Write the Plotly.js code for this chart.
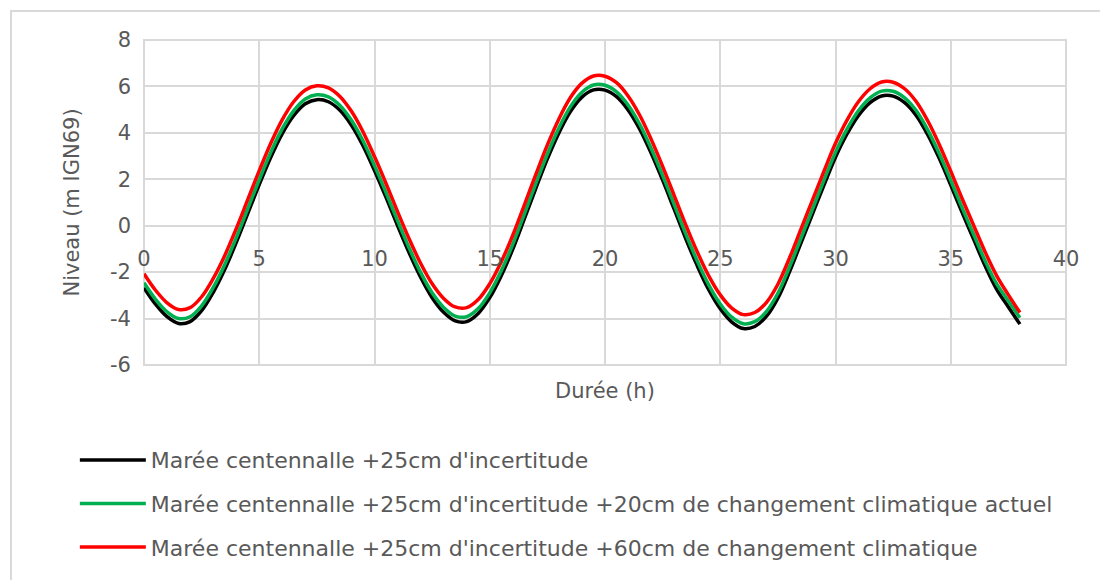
<!DOCTYPE html>
<html><head><meta charset="utf-8">
<script src="https://cdn.plot.ly/plotly-3.0.1.min.js"></script>
<style>
html,body{margin:0;padding:0;background:#fff;overflow:hidden;width:1100px;height:580px;}
#frame{position:absolute;left:10px;top:10px;width:1200px;height:700px;border-left:2px solid #d9d9d9;border-top:2px solid #d9d9d9;}
#chart{position:absolute;left:0;top:0;width:1100px;height:580px;}
</style></head><body>
<div id="frame"></div><div id="chart"></div>
<script>
const hours = [0,0.5,1,1.5,2,2.5,3,3.5,4,4.5,5,5.5,6,6.5,7,7.5,8,8.5,9,9.5,10,10.5,11,11.5,12,12.5,13,13.5,14,14.5,15,15.5,16,16.5,17,17.5,18,18.5,19,19.5,20,20.5,21,21.5,22,22.5,23,23.5,24,24.5,25,25.5,26,26.5,27,27.5,28,28.5,29,29.5,30,30.5,31,31.5,32,32.5,33,33.5,34,34.5,35,35.5,36,36.5,37,37.5,38];

const serieIncertitude = [-2.67,-3.38,-3.92,-4.21,-4.13,-3.66,-2.88,-1.89,-0.73,0.52,1.77,2.95,3.97,4.75,5.25,5.43,5.34,4.97,4.33,3.45,2.38,1.22,0.01,-1.16,-2.22,-3.10,-3.73,-4.10,-4.13,-3.78,-3.10,-2.15,-1.01,0.29,1.61,2.88,4.00,4.92,5.54,5.85,5.84,5.56,4.99,4.17,3.13,1.96,0.71,-0.55,-1.72,-2.76,-3.58,-4.15,-4.43,-4.34,-3.91,-3.12,-2.00,-0.75,0.50,1.75,2.95,3.95,4.75,5.30,5.59,5.58,5.30,4.75,3.92,2.90,1.75,0.55,-0.60,-1.75,-2.75,-3.50,-4.24];

const serieActuel = [-2.46,-3.17,-3.71,-4.00,-3.92,-3.45,-2.67,-1.68,-0.52,0.73,1.98,3.16,4.18,4.96,5.46,5.64,5.55,5.18,4.54,3.66,2.59,1.43,0.22,-0.95,-2.01,-2.89,-3.52,-3.89,-3.92,-3.57,-2.89,-1.94,-0.80,0.50,1.82,3.09,4.21,5.13,5.75,6.06,6.05,5.77,5.20,4.38,3.34,2.17,0.92,-0.34,-1.51,-2.55,-3.37,-3.94,-4.22,-4.13,-3.70,-2.91,-1.79,-0.54,0.71,1.96,3.16,4.16,4.96,5.51,5.80,5.79,5.51,4.96,4.13,3.11,1.96,0.76,-0.39,-1.53,-2.52,-3.24,-3.96];

const serieClimat = [-2.07,-2.78,-3.32,-3.61,-3.53,-3.06,-2.28,-1.29,-0.13,1.12,2.37,3.55,4.57,5.35,5.85,6.03,5.94,5.57,4.93,4.05,2.98,1.82,0.61,-0.56,-1.62,-2.50,-3.13,-3.50,-3.53,-3.18,-2.50,-1.55,-0.41,0.89,2.21,3.48,4.60,5.52,6.14,6.45,6.44,6.16,5.59,4.77,3.73,2.56,1.31,0.05,-1.12,-2.16,-2.98,-3.55,-3.83,-3.74,-3.31,-2.52,-1.40,-0.15,1.10,2.35,3.55,4.55,5.35,5.90,6.19,6.18,5.90,5.35,4.52,3.50,2.35,1.15,0.00,-1.15,-2.17,-2.98,-3.74];

const seriesNames = [
  "Marée centennalle +25cm d'incertitude",
  "Marée centennalle +25cm d'incertitude +20cm de changement climatique actuel",
  "Marée centennalle +25cm d'incertitude +60cm de changement climatique"
];
const seriesColors = ['#000000', '#00b050', '#ff0000'];
const xTicks = [0,5,10,15,20,25,30,35,40];
const yTicks = [-6,-4,-2,0,2,4,6,8];

const FONT = 'DejaVu Sans, sans-serif';
const GREY = '#595959';
const GRID = '#d9d9d9';
const allY = [serieIncertitude, serieActuel, serieClimat];

const traces = allY.map((ys, i) => ({
  x: hours, y: ys, type: 'scatter', mode: 'lines',
  name: seriesNames[i], legendgroup: 'g' + i,
  line: {color: seriesColors[i], width: 3.5, shape: 'spline', smoothing: 1},
  hoverinfo: 'skip'
}));

const layout = {
  width: 1100, height: 580,
  margin: {l: 144, r: 34, t: 40, b: 212, pad: 0},
  paper_bgcolor: 'rgba(0,0,0,0)', plot_bgcolor: 'rgba(0,0,0,0)',
  showlegend: true,
  font: {family: FONT, color: GREY},
  xaxis: {
    range: [0, 40], tickmode: 'array', tickvals: xTicks, ticktext: xTicks.map(String),
    anchor: 'free', position: 6/14,
    showgrid: true, gridcolor: GRID, gridwidth: 2,
    zeroline: false, showline: false, ticks: '',
    ticklabelstandoff: 18,
    tickfont: {family: FONT, size: 21, color: GREY},
    fixedrange: true
  },
  yaxis: {
    range: [-6, 8], tickmode: 'array', tickvals: yTicks, ticktext: yTicks.map(String),
    showgrid: true, gridcolor: GRID, gridwidth: 2,
    zeroline: false, showline: false, ticks: '',
    ticklabelstandoff: 12,
    tickfont: {family: FONT, size: 21, color: GREY},
    title: {text: 'Niveau (m IGN69)', font: {family: FONT, size: 21, color: GREY}, standoff: 24},
    fixedrange: true
  },
  shapes: [{
    type: 'rect', xref: 'paper', yref: 'paper', x0: 0, x1: 1, y0: 0, y1: 1,
    line: {color: GRID, width: 2}, fillcolor: 'rgba(0,0,0,0)', layer: 'below'
  }],
  annotations: [{
    text: 'Durée (h)', xref: 'paper', yref: 'paper', x: 0.5, y: (368 - 394) / 328,
    xanchor: 'center', yanchor: 'middle', showarrow: false,
    font: {family: FONT, size: 21, color: GREY}
  }],
  legend: {
    x: -0.075, xanchor: 'left', y: -0.228, yanchor: 'top',
    orientation: 'v', traceorder: 'grouped', tracegroupgap: 12,
    itemwidth: 66, bgcolor: 'rgba(0,0,0,0)',
    font: {family: FONT, size: 22, color: GREY}
  }
};

Plotly.newPlot('chart', traces, layout, {displayModeBar: false, staticPlot: true});
</script>
</body></html>
